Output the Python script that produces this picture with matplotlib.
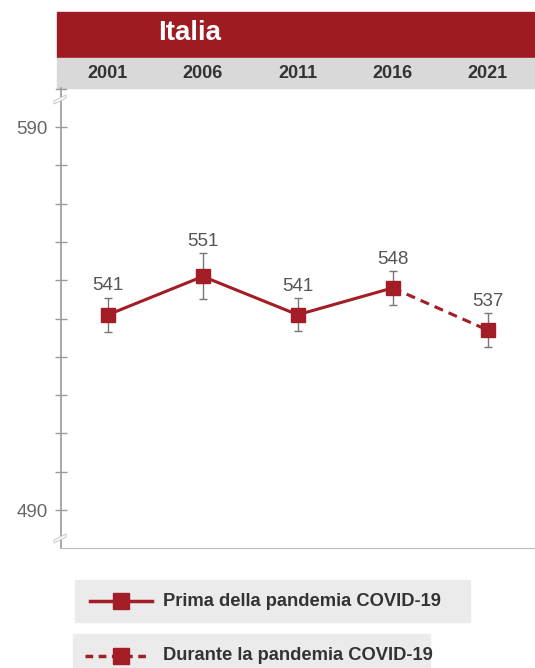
import matplotlib
matplotlib.use("Agg")
import matplotlib.pyplot as plt
from matplotlib.patches import Rectangle, Polygon
from matplotlib.lines import Line2D
import numpy as np

years = ["2001", "2006", "2011", "2016", "2021"]
scores = [541, 551, 541, 548, 537]
errors = [4.5, 6.0, 4.3, 4.4, 4.4]
title = "Italia"
legend_labels = ["Prima della pandemia COVID-19", "Durante la pandemia COVID-19"]

RED = "#A21D25"
HEAD = "#9E1B22"
GRAYBAND = "#D9D9D9"
AX = "#9A9A9A"

W, H = 535, 668
fig = plt.figure(figsize=(W / 100, H / 100), dpi=100)
plt.rcParams['font.family'] = ['Liberation Sans', 'DejaVu Sans']

def fx(px): return px / W
def fy(py): return 1 - py / H

# header bands
fig.patches.append(Rectangle((fx(57), fy(57)), 1 - fx(57), fy(12) - fy(57),
                             transform=fig.transFigure, color=HEAD, zorder=-2))
fig.patches.append(Rectangle((fx(57), fy(88)), 1 - fx(57), fy(58) - fy(88),
                             transform=fig.transFigure, color=GRAYBAND, zorder=-2))
fig.text(fx(190), fy(33), title, color="white", fontsize=20, fontweight="bold",
         ha="center", va="center")

ax = fig.add_axes([fx(61), fy(548), 1 - fx(61), fy(88) - fy(548)])
ax.set_xlim(-0.495, 4.5)
ax.set_ylim(480.1, 600.2)
x = np.arange(len(years))

for i, yr in enumerate(years):
    ax.text(i, 1.0 + 15 / 460, yr, transform=ax.get_xaxis_transform(), ha="center", va="center",
            fontsize=13, fontweight="bold", color="#333333", clip_on=False)

# lines
ax.plot(x[:4], scores[:4], color=RED, lw=2.2, zorder=3)
ax.plot(x[3:], scores[3:], color=RED, lw=2.2, ls=(0, (3, 2)), zorder=3)
ax.errorbar(x, scores, yerr=errors, fmt="none", ecolor="#777777", elinewidth=1,
            capsize=3, capthick=1, zorder=2)
ax.plot(x, scores, ls="none", marker="s", ms=10, color=RED, zorder=4)
for xi, s, e in zip(x, scores, errors):
    ax.text(xi, s + e + 0.8, str(s), ha="center", va="bottom", fontsize=13.5, color="#555555")

# axes styling
for sp in ["top", "right"]:
    ax.spines[sp].set_visible(False)
ax.spines["left"].set_color(AX)
ax.spines["bottom"].set_color("#BBBBBB")
ax.spines["left"].set_linewidth(1.2)
ax.set_xticks([])
ax.set_yticks([490, 590])
ax.set_yticklabels(["490", "590"], fontsize=13.5, color="#666666")
ax.set_yticks(np.arange(490, 591, 10), minor=True)
ax.tick_params(axis="y", which="both", direction="inout", length=9, color=AX, width=1, pad=5)
ax.patch.set_alpha(0)

# top cap of y axis
fig.add_artist(Line2D([fx(56), fx(66)], [fy(89), fy(89)], color=AX, lw=1))

# axis break marks
for by in (101, 540):
    poly = Polygon([[fx(54), fy(by + 3)], [fx(66), fy(by - 3)], [fx(66), fy(by - 6)], [fx(54), fy(by)]],
                   closed=True, transform=fig.transFigure, facecolor="white",
                   edgecolor="#CCCCCC", lw=0.8, zorder=5)
    fig.patches.append(poly)

# legend
fig.patches.append(Rectangle((fx(75), fy(622)), fx(470) - fx(75), fy(580) - fy(622),
                             transform=fig.transFigure, color="#EBEBEB", zorder=-2))
fig.patches.append(Rectangle((fx(73), fy(672)), fx(430) - fx(73), fy(634) - fy(672),
                             transform=fig.transFigure, color="#EBEBEB", zorder=-2))
fig.add_artist(Line2D([fx(90), fx(152)], [fy(601), fy(601)], color=RED, lw=2.5))
fig.add_artist(Line2D([fx(121)], [fy(601)], marker="s", ms=11, color=RED, ls="none"))
fig.add_artist(Line2D([fx(85), fx(148)], [fy(656), fy(656)], color=RED, lw=2.5, ls=(0, (2.2, 1.6))))
fig.add_artist(Line2D([fx(121)], [fy(656)], marker="s", ms=11, color=RED, ls="none"))
fig.text(fx(163), fy(601), legend_labels[0], fontsize=13.2, fontweight="bold",
         color="#333333", va="center", ha="left")
fig.text(fx(163), fy(656), legend_labels[1], fontsize=13.2, fontweight="bold",
         color="#333333", va="center", ha="left")

fig.savefig("out.png", dpi=100)
